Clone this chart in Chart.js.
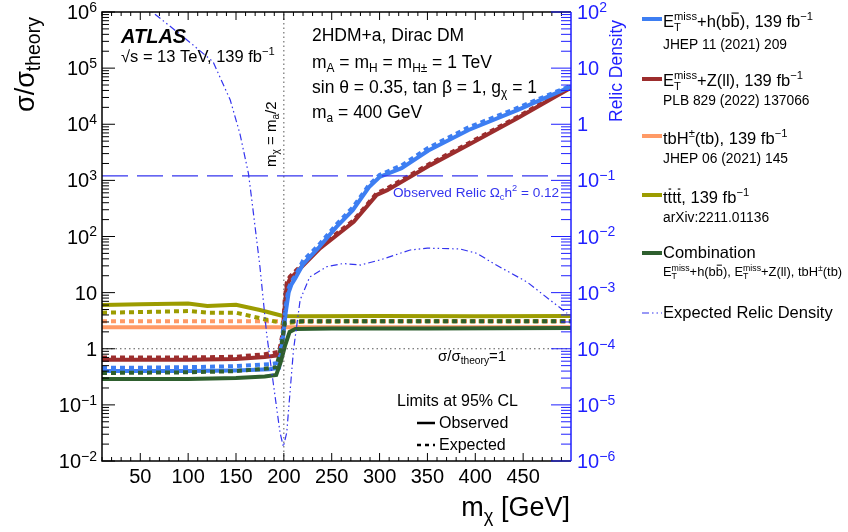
<!DOCTYPE html>
<html>
<head>
<meta charset="utf-8">
<script src="https://cdn.jsdelivr.net/npm/chart.js@4/dist/chart.umd.min.js"></script>
<style>
  html, body { margin: 0; padding: 0; background: #fff; }
</style>
</head>
<body>
<canvas id="c" width="848" height="532"></canvas>
<script>
// dark matter mass (GeV) and sigma/sigma_theory limits
const massBb = [10, 50, 100, 150, 185, 195, 199, 202, 205, 208, 212, 220, 237, 255, 272, 289, 300, 323, 351, 393, 444, 500];
const bbObs = [0.40, 0.40, 0.40, 0.41, 0.43, 0.46, 1.5, 4.5, 10, 14, 18, 32, 65, 148, 295, 760, 1150, 1650, 3400, 7900, 17900, 47000];
const bbExp = [0.46, 0.46, 0.47, 0.49, 0.53, 0.56, 2.0, 6.0, 12, 16, 20, 37, 72, 165, 330, 830, 1250, 1850, 3800, 8800, 19500, 49000];

const massZll = [10, 50, 100, 150, 180, 195, 199, 201, 203, 206, 212, 238, 273, 297, 308, 353, 393, 444, 500];
const zllObs = [0.64, 0.64, 0.64, 0.66, 0.71, 0.77, 1.5, 6, 13, 17, 22, 62, 182, 550, 670, 1870, 4300, 12800, 45000];
const zllExp = [0.70, 0.70, 0.70, 0.72, 0.80, 0.88, 2.0, 8, 15, 19, 24, 67, 195, 590, 720, 2000, 4600, 13500, 47000];

const massTbH = [10, 500];
const tbhObs = [2.42, 2.42];
const tbhExp = [3.1, 3.1];

const massTttt = [10, 50, 100, 120, 150, 175, 199, 220, 300, 400, 500];
const ttttObs = [6.0, 6.2, 6.4, 5.8, 6.1, 4.9, 3.85, 3.8, 3.85, 3.8, 3.85];
const ttttExp = [4.4, 4.5, 4.7, 4.4, 4.4, 3.5, 2.85, 3.05, 3.1, 3.1, 3.1];

const massComb = [10, 100, 150, 180, 192, 197, 201, 206, 212, 250, 350, 500];
const combObs = [0.29, 0.29, 0.30, 0.32, 0.34, 0.6, 1.1, 2.0, 2.25, 2.3, 2.3, 2.35];
const combExp = [0.37, 0.38, 0.40, 0.44, 0.47, 1.0, 2.86, 3.05, 3.1, 3.1, 3.1, 3.1];

// expected relic density (right axis)
const massRelic = [50, 60, 95, 126, 144, 154, 163, 166.5, 175, 182, 189, 196, 199.5, 203, 210, 217, 227, 245, 262, 280, 300, 332, 350, 384, 402, 419, 454, 478, 496];
const relicDensity = [150, 108, 36, 13, 2.7, 0.69, 0.133, 0.045, 0.0029, 1.86e-4, 2.4e-5, 3.2e-6, 1.8e-6, 3.2e-6, 9.3e-5, 7.4e-4, 1.9e-3, 2.9e-3, 3.3e-3, 3.1e-3, 3.8e-3, 5.75e-3, 6.2e-3, 6.0e-3, 5.0e-3, 3.3e-3, 1.55e-3, 7.4e-4, 4.3e-4];
const observedRelic = 0.12;

const xTicks = [50, 100, 150, 200, 250, 300, 350, 400, 450];
const leftExp = [-2, -1, 0, 1, 2, 3, 4, 5, 6];
const rightExp = [-6, -5, -4, -3, -2, -1, 0, 1, 2];

const BLUE = '#3d7ef2', RED = '#9c2d2d', ORANGE = '#ff9a66', OLIVE = '#9c9c00', GREEN = '#2e5f2e';
const RELIC = '#3434ee', AXBLUE = '#1f1fff';

const pts = (xs, ys) => xs.map((v, i) => ({ x: v, y: ys[i] }));

function line(label, xs, ys, color, dashed, order) {
  return {
    label, data: pts(xs, ys), borderColor: color, borderWidth: 4,
    borderDash: dashed ? [5, 4] : [], pointRadius: 0, tension: 0, fill: false, order
  };
}

function fnt(px, style) { return (style ? style + ' ' : '') + px + 'px "Liberation Sans", Arial, sans-serif'; }

// small helper for text with sub/superscripts and overbars
function rich(ctx, x, y, parts, size, opts) {
  opts = opts || {};
  const r = opts.small || 0.68;
  const small = size * r;
  const items = parts.map(p => {
    const t = Array.isArray(p) ? p[0] : p;
    const k = Array.isArray(p) ? p[1] : '';
    let w;
    if (k === 'st') {
      ctx.font = fnt(small);
      w = Math.max(ctx.measureText(t[0]).width, ctx.measureText(t[1]).width);
    } else {
      ctx.font = (k === 'sup' || k === 'sub') ? fnt(small) : fnt(size, opts.style);
      w = ctx.measureText(t).width;
    }
    return { t, k, w };
  });
  const total = items.reduce((s, it) => s + it.w, 0);
  let cx = opts.align === 'right' ? x - total : opts.align === 'center' ? x - total / 2 : x;
  ctx.textAlign = 'left';
  ctx.textBaseline = 'alphabetic';
  const up = opts.up || 0.42;
  for (const it of items) {
    if (it.k === 'st') {
      ctx.font = fnt(small);
      ctx.fillText(it.t[0], cx, y - size * up);
      ctx.fillText(it.t[1], cx, y + size * 0.22);
    } else if (it.k === 'sup') {
      ctx.font = fnt(small);
      ctx.fillText(it.t, cx, y - size * up);
    } else if (it.k === 'sub') {
      ctx.font = fnt(small);
      ctx.fillText(it.t, cx, y + size * 0.22);
    } else {
      ctx.font = fnt(size, opts.style);
      ctx.fillText(it.t, cx, y);
      if (it.k === 'bar') ctx.fillRect(cx + 1, y - size * 0.88, it.w - 2, Math.max(1, size * 0.07));
    }
    cx += it.w;
  }
  return total;
}

function seg(ctx, x1, y1, x2, y2) { ctx.beginPath(); ctx.moveTo(x1, y1); ctx.lineTo(x2, y2); ctx.stroke(); }

const decor = {
  id: 'decor',
  afterDraw(chart) {
    const { ctx, chartArea: a } = chart;
    const { x, y, y2 } = chart.scales;
    ctx.save();

    // frame
    ctx.lineWidth = 1.5;
    ctx.strokeStyle = '#000';
    ctx.beginPath();
    ctx.moveTo(a.right, a.top); ctx.lineTo(a.left, a.top); ctx.lineTo(a.left, a.bottom); ctx.lineTo(a.right, a.bottom);
    ctx.stroke();
    ctx.strokeStyle = AXBLUE;
    seg(ctx, a.right, a.top, a.right, a.bottom);

    // x ticks (bottom and top)
    ctx.lineWidth = 1;
    ctx.strokeStyle = '#000';
    for (let v = 10; v < 500; v += 10) {
      const px = x.getPixelForValue(v);
      const len = v % 50 === 0 ? 8 : 4;
      seg(ctx, px, a.bottom, px, a.bottom - len);
      seg(ctx, px, a.top, px, a.top + len);
    }
    // left log ticks
    for (let e = -2; e <= 6; e++) {
      for (let m = 1; m <= 9; m++) {
        const v = m * Math.pow(10, e);
        if (v > 1e6) break;
        const py = y.getPixelForValue(v);
        seg(ctx, a.left, py, a.left + (m === 1 ? 13 : 7), py);
      }
    }
    // right log ticks
    ctx.strokeStyle = AXBLUE;
    for (let e = -6; e <= 2; e++) {
      for (let m = 1; m <= 9; m++) {
        const v = m * Math.pow(10, e);
        if (v > 100) break;
        const py = y2.getPixelForValue(v);
        seg(ctx, a.right, py, a.right - (m === 1 ? 20 : 10), py);
      }
    }

    // tick labels
    ctx.fillStyle = '#000';
    xTicks.forEach(v => {
      ctx.font = fnt(20); ctx.textAlign = 'center'; ctx.textBaseline = 'alphabetic';
      ctx.fillText(String(v), x.getPixelForValue(v), a.bottom + 22);
    });
    const powParts = e => e === 0 ? ['1'] : e === 1 ? ['10'] : ['10', [(e < 0 ? '\u2212' : '') + Math.abs(e), 'sup']];
    leftExp.forEach(e => {
      rich(ctx, 97, y.getPixelForValue(Math.pow(10, e)) + 7, powParts(e), 20, { align: 'right', small: 0.7, up: 0.36 });
    });
    ctx.fillStyle = AXBLUE;
    rightExp.forEach(e => {
      rich(ctx, 577, y2.getPixelForValue(Math.pow(10, e)) + 7, powParts(e), 20, { small: 0.7, up: 0.36 });
    });

    // axis titles
    ctx.fillStyle = '#000';
    rich(ctx, 570, 516, ['m', ['\u03c7', 'sub'], ' [GeV]'], 27, { align: 'right' });
    ctx.save();
    ctx.translate(34, 112); ctx.rotate(-Math.PI / 2);
    rich(ctx, 0, 0, ['\u03c3/\u03c3', ['theory', 'sub']], 27, { small: 0.72 });
    ctx.restore();
    ctx.save();
    ctx.fillStyle = AXBLUE;
    ctx.translate(622, 122); ctx.rotate(-Math.PI / 2);
    rich(ctx, 0, 0, ['Relic Density'], 17.5);
    ctx.restore();

    // labels inside the frame
    ctx.fillStyle = '#000';
    rich(ctx, 121, 43, ['ATLAS'], 20, { style: 'bold italic' });
    rich(ctx, 121, 62, ['\u221as = 13 TeV, 139 fb', ['\u22121', 'sup']], 16.5);
    rich(ctx, 312, 41, ['2HDM+a, Dirac DM'], 17.5);
    rich(ctx, 312, 68, ['m', ['A', 'sub'], ' = m', ['H', 'sub'], ' = m', ['H\u00b1', 'sub'], ' = 1 TeV'], 17.5);
    rich(ctx, 312, 93, ['sin \u03b8 = 0.35, tan \u03b2 = 1, g', ['\u03c7', 'sub'], ' = 1'], 17.5);
    rich(ctx, 312, 118, ['m', ['a', 'sub'], ' = 400 GeV'], 17.5);
    ctx.save();
    ctx.translate(276, 167); ctx.rotate(-Math.PI / 2);
    rich(ctx, 0, 0, ['m', ['\u03c7', 'sub'], ' = m', ['a', 'sub'], '/2'], 15);
    ctx.restore();
    ctx.fillStyle = RELIC;
    rich(ctx, 393, 197, ['Observed Relic \u03a9', ['c', 'sub'], 'h', ['2', 'sup'], ' = 0.12'], 13.6);
    ctx.fillStyle = '#000';
    rich(ctx, 438, 361, ['\u03c3/\u03c3', ['theory', 'sub'], '=1'], 15);
    rich(ctx, 397, 406, ['Limits at 95% CL'], 16);
    rich(ctx, 439, 428, ['Observed'], 16);
    rich(ctx, 439, 450, ['Expected'], 16);
    ctx.strokeStyle = '#000'; ctx.lineWidth = 2.5;
    seg(ctx, 417, 423, 435, 423);
    ctx.setLineDash([4, 4]);
    seg(ctx, 417, 445, 435, 445);
    ctx.setLineDash([]);

    // legend
    const lx = 663;
    const sample = (yy, color) => { ctx.strokeStyle = color; ctx.lineWidth = 4; seg(ctx, 642, yy, 662, yy); };
    const ET = ['E', [['miss', 'T'], 'st']];
    sample(19, BLUE);
    ctx.fillStyle = '#000';
    rich(ctx, lx, 27, [...ET, '+h(b', ['b', 'bar'], '), 139 fb', ['\u22121', 'sup']], 16.5, { small: 0.68 });
    rich(ctx, lx, 49, ['JHEP 11 (2021) 209'], 13.8);
    sample(79, RED);
    rich(ctx, lx, 86, [...ET, '+Z(ll), 139 fb', ['\u22121', 'sup']], 16.5, { small: 0.68 });
    rich(ctx, lx, 105, ['PLB 829 (2022) 137066'], 13.8);
    sample(136, ORANGE);
    rich(ctx, lx, 144, ['tbH', ['\u00b1', 'sup'], '(tb), 139 fb', ['\u22121', 'sup']], 16.5);
    rich(ctx, lx, 163, ['JHEP 06 (2021) 145'], 13.8);
    sample(195, OLIVE);
    rich(ctx, lx, 203, ['t', ['t', 'bar'], 't', ['t', 'bar'], ', 139 fb', ['\u22121', 'sup']], 16.5);
    rich(ctx, lx, 222, ['arXiv:2211.01136'], 13.8);
    sample(253, GREEN);
    rich(ctx, lx, 258, ['Combination'], 16.5);
    rich(ctx, lx, 276, [...ET, '+h(b', ['b', 'bar'], '), ', ...ET, '+Z(ll), tbH', ['\u00b1', 'sup'], '(tb)'], 12.9);
    ctx.strokeStyle = RELIC; ctx.lineWidth = 1.2;
    ctx.setLineDash([7, 3, 1.5, 3, 1.5, 3]);
    seg(ctx, 642, 313, 662, 313);
    ctx.setLineDash([]);
    rich(ctx, lx, 318, ['Expected Relic Density'], 16.5);

    ctx.restore();
  }
};

new Chart(document.getElementById('c'), {
  type: 'line',
  data: {
    datasets: [
      line('tbH obs', massTbH, tbhObs, ORANGE, false, 12),
      line('tbH exp', massTbH, tbhExp, ORANGE, true, 11),
      line('tttt obs', massTttt, ttttObs, OLIVE, false, 10),
      line('tttt exp', massTttt, ttttExp, OLIVE, true, 9),
      line('Zll obs', massZll, zllObs, RED, false, 8),
      line('Zll exp', massZll, zllExp, RED, true, 7),
      line('bb obs', massBb, bbObs, BLUE, false, 6),
      line('bb exp', massBb, bbExp, BLUE, true, 5),
      line('comb obs', massComb, combObs, GREEN, false, 4),
      line('comb exp', massComb, combExp, GREEN, true, 3),
      {
        label: 'unity', data: pts([10, 500], [1, 1]), borderColor: '#555', borderWidth: 1,
        borderDash: [1.5, 3], pointRadius: 0, order: 2
      },
      {
        label: 'half ma', data: pts([200, 200], [1e-2, 1e6]), borderColor: '#555', borderWidth: 1,
        borderDash: [1.5, 3], pointRadius: 0, order: 2
      },
      {
        label: 'observed relic', data: pts([10, 500], [observedRelic, observedRelic]), yAxisID: 'y2',
        borderColor: RELIC, borderWidth: 1.3, borderDash: [26, 9], pointRadius: 0, order: 1
      },
      {
        label: 'expected relic', data: pts(massRelic, relicDensity), yAxisID: 'y2',
        borderColor: RELIC, borderWidth: 1.2, borderDash: [7, 3, 1.5, 3, 1.5, 3], pointRadius: 0, tension: 0, order: 0
      }
    ]
  },
  options: {
    responsive: false,
    animation: false,
    devicePixelRatio: 1,
    layout: { padding: { left: 102, right: 277, top: 12, bottom: 71 } },
    plugins: { legend: { display: false }, tooltip: { enabled: false } },
    scales: {
      x: { type: 'linear', min: 10, max: 500, display: false },
      y: { type: 'logarithmic', min: 1e-2, max: 1e6, display: false },
      y2: { type: 'logarithmic', min: 1e-6, max: 1e2, display: false, position: 'right' }
    }
  },
  plugins: [decor]
});
</script>
</body>
</html>
